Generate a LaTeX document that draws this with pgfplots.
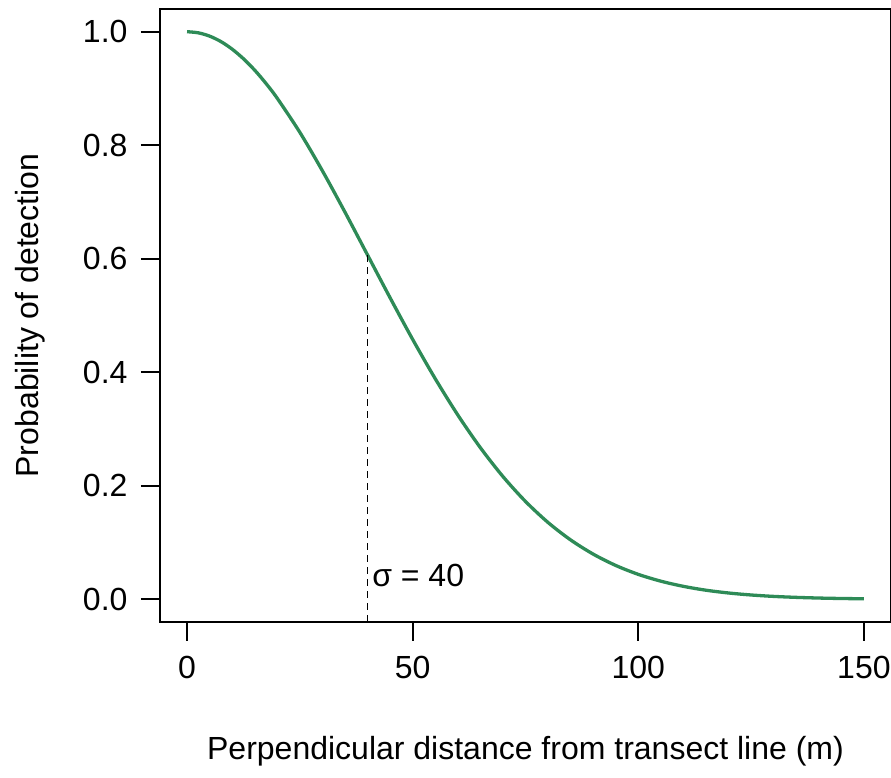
\documentclass[border=0pt]{standalone}
\usepackage{pgfplots}
\pgfplotsset{compat=1.18}
\usepackage{fontspec}
\setmainfont{Liberation Sans}
\definecolor{seagreen}{HTML}{2E8B57}
\begin{document}
\begin{tikzpicture}
\useasboundingbox (-160pt,-156pt) rectangle (731pt,622pt);
\begin{axis}[
  at={(0,0)}, anchor=south west,
  scale only axis, width=731pt, height=613pt,
  xmin=-6, xmax=156, ymin=-0.04, ymax=1.04,
  axis line style={line width=1.8pt, black},
  xtick={0,50,100,150},
  ytick={0,0.2,0.4,0.6,0.8,1.0},
  tick align=outside, major tick length=19pt,
  tick style={line width=1.8pt, black},
  xtick pos=bottom, ytick pos=left,
  /pgf/number format/assume math mode=true,
  font=\fontsize{32}{37}\selectfont,
  yticklabel style={/pgf/number format/fixed, /pgf/number format/fixed zerofill, /pgf/number format/precision=1, xshift=-10pt},
  xticklabel style={yshift=-12pt},
  xlabel={Perpendicular distance from transect line (m)},
  ylabel={Probability of detection},
  xlabel style={at={(axis description cs:0.5,-0.211)}, anchor=center},
  ylabel style={at={(axis description cs:-0.178,0.5)}, anchor=center, rotate=0},
  clip=false,
]
\addplot[seagreen, line width=3.3pt, smooth, tension=0.5] coordinates {
(0,1.0000) (2.5,0.9980) (5,0.9922) (7.5,0.9826) (10,0.9692) (12.5,0.9523)
(15,0.9321) (17.5,0.9087) (20,0.8825) (25,0.8226)
(30,0.7548) (35,0.6820) (40,0.6065) (45,0.5311) (50,0.4578) (55,0.3886)
(60,0.3247) (65,0.2671) (70,0.2163) (75,0.1724) (80,0.1353) (85,0.1046)
(90,0.0796) (95,0.0596) (100,0.0439) (105,0.0319) (110,0.0228) (115,0.0160)
(120,0.0111) (125,0.0076) (130,0.0051) (135,0.0034) (140,0.0022) (145,0.0014)
(150,0.0009)};
\addplot[black, line width=1.8pt, dash pattern=on 7pt off 5pt] coordinates {(40,-0.04) (40,0.6065)};
\node[anchor=base west, inner sep=0pt] at (axis cs:41,0.023) {σ = 40};
\end{axis}
\end{tikzpicture}
\end{document}
